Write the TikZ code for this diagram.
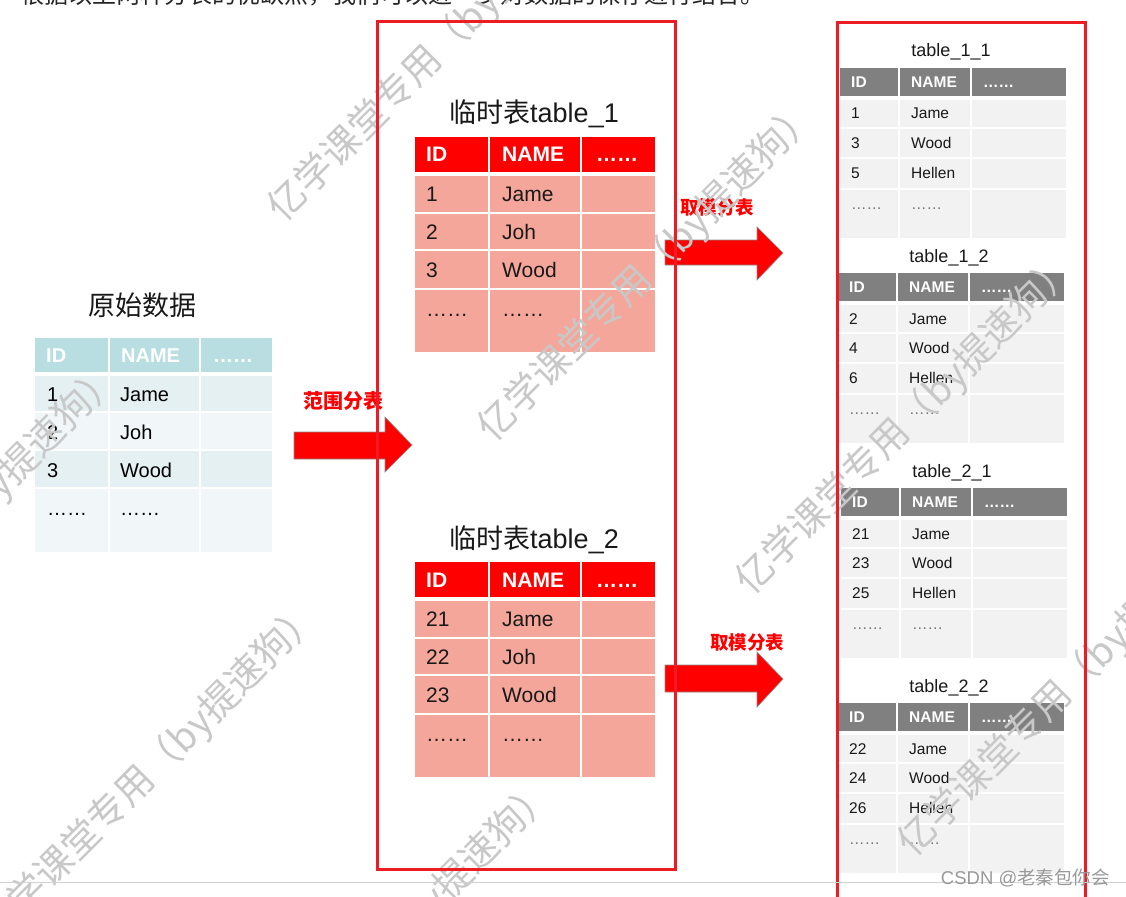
\documentclass[tikz,border=0pt]{standalone}
\usepackage{fontspec}
\setmainfont{Liberation Sans}
\newfontfamily\cjk{Noto Sans CJK SC}
\newcommand\fs[1]{\fontsize{#1}{#1}\selectfont}
\definecolor{lhdrc}{RGB}{185,222,226}
\definecolor{lrowa}{RGB}{228,240,242}
\definecolor{lrowb}{RGB}{241,247,249}
\definecolor{mhdrc}{RGB}{255,0,0}
\definecolor{mrowc}{RGB}{245,166,154}
\definecolor{rhdrc}{RGB}{128,128,128}
\definecolor{rrowc}{RGB}{242,242,242}
\definecolor{framec}{RGB}{237,28,36}
\definecolor{wmc}{RGB}{200,200,200}
\tikzset{
  base/.style={inner sep=0pt,anchor=base west},
  lhead/.style={base,text=white,font=\fs{20}\bfseries},
  lbody/.style={base,text=black,font=\fs{20}},
  mhead/.style={base,text=white,font=\fs{21}\bfseries},
  mbody/.style={base,text=black!90,font=\fs{21}},
  rhead/.style={base,text=white,font=\fs{15.5}\bfseries},
  rbody/.style={base,text=black!90,font=\fs{15.5}},
  rdots/.style={base,text=black!55,font=\fs{15.5}},
  ttl/.style={inner sep=0pt,anchor=base,text=black!90},
  lbl/.style={inner sep=0pt,anchor=base,text=red,font=\cjk\bfseries\fs{#1}},
  blockarrow/.style={fill=red,draw=black!45,line width=0.6pt},
  frame/.style={draw=framec,line width=3pt},
  wm/.style={inner sep=0pt,anchor=west,rotate=45,text=wmc,font=\cjk\fs{38}},
}
\newcommand\mtable[6]{%
  \foreach \a/\b in {415/488,490/580,582/655}{%
    \fill[mhdrc] (\a,#2) rectangle (\b,{#2+35});
    \foreach \ya/\yb in {39/75,77/112,114/151,153/215}
      \fill[mrowc] (\a,{#2+\ya}) rectangle (\b,{#2+\yb});
  }
  \node[ttl,font=\fs{27}] (#1-title) at (534,{#2-14}) {{\cjk 临时表}table\_#3};
  \node[mhead] (#1-hid) at (426,{#2+25}) {ID};
  \node[mhead] (#1-hname) at (502,{#2+25}) {NAME};
  \node[mhead] (#1-hmore) at (596,{#2+25}) {……};
  \node[mbody] (#1-id1) at (426,{#2+64.5}) {#4};
  \node[mbody] (#1-n1) at (502,{#2+64.5}) {Jame};
  \node[mbody] (#1-id2) at (426,{#2+102.5}) {#5};
  \node[mbody] (#1-n2) at (502,{#2+102.5}) {Joh};
  \node[mbody] (#1-id3) at (426,{#2+140.5}) {#6};
  \node[mbody] (#1-n3) at (502,{#2+140.5}) {Wood};
  \node[mbody] (#1-d1) at (426,{#2+179}) {……};
  \node[mbody] (#1-d2) at (502,{#2+179}) {……};
}
\newcommand\rtable[7]{%
  \foreach \a/\b in {0/58,60/130,132/226}{%
    \fill[rhdrc] ({#2+\a},#3) rectangle ({#2+\b},{#3+28});
    \foreach \ya/\yb in {32/59,61/89,91/120,122/170}
      \fill[rrowc] ({#2+\a},{#3+\ya}) rectangle ({#2+\b},{#3+\yb});
  }
  \node[ttl,font=\fs{18}] (#1-title) at ({#2+111},{#3-11}) {#4};
  \node[rhead] (#1-hid) at ({#2+11},{#3+19.5}) {ID};
  \node[rhead] (#1-hname) at ({#2+71},{#3+19.5}) {NAME};
  \node[rhead] (#1-hmore) at ({#2+143},{#3+19.5}) {……};
  \node[rbody] (#1-id1) at ({#2+11},{#3+51}) {#5};
  \node[rbody] (#1-n1) at ({#2+71},{#3+51}) {Jame};
  \node[rbody] (#1-id2) at ({#2+11},{#3+80.5}) {#6};
  \node[rbody] (#1-n2) at ({#2+71},{#3+80.5}) {Wood};
  \node[rbody] (#1-id3) at ({#2+11},{#3+110.5}) {#7};
  \node[rbody] (#1-n3) at ({#2+71},{#3+110.5}) {Hellen};
  \node[rdots] (#1-d1) at ({#2+11},{#3+141}) {……};
  \node[rdots] (#1-d2) at ({#2+71},{#3+141}) {……};
}
\begin{document}
\begin{tikzpicture}[x=1pt,y=-1pt]
\useasboundingbox (0,0) rectangle (1126,896);
\fill[white] (0,0) rectangle (1126,896);

% cut-off top line
\node[base,text=black!85,font=\cjk\fs{24}] (toptext) at (20,4) {根据以上两种分表的优缺点，我们可以进一步对数据的保存进行结合。};

% left table
\node[ttl,font=\cjk\fs{27}] (ltitle) at (142,315) {原始数据};
\foreach \a/\b in {35/108,110/199,201/272}{
  \fill[lhdrc] (\a,338) rectangle (\b,372);
  \foreach \ya/\yb/\c in {376/411/lrowa,413/449/lrowb,451/487/lrowa,489/552/lrowb}
    \fill[\c] (\a,\ya) rectangle (\b,\yb);
}
\node[lhead] (l-hid) at (46,362) {ID};
\node[lhead] (l-hname) at (121,362) {NAME};
\node[lhead] (l-hmore) at (213,362) {……};
\node[lbody] (l-id1) at (47,401) {1};
\node[lbody] (l-n1) at (120,401) {Jame};
\node[lbody] (l-id2) at (47,439) {2};
\node[lbody] (l-n2) at (120,439) {Joh};
\node[lbody] (l-id3) at (47,477) {3};
\node[lbody] (l-n3) at (120,477) {Wood};
\node[lbody] (l-d1) at (47,515) {……};
\node[lbody] (l-d2) at (120,515) {……};

% middle tables
\mtable{m1}{137}{1}{1}{2}{3}
\mtable{m2}{562}{2}{21}{22}{23}

% right tables
\rtable{r11}{840}{68}{table\_1\_1}{1}{3}{5}
\rtable{r12}{838}{273}{table\_1\_2}{2}{4}{6}
\rtable{r21}{841}{488}{table\_2\_1}{21}{23}{25}
\rtable{r22}{838}{703}{table\_2\_2}{22}{24}{26}

% block arrows
\fill[blockarrow] (294,432) -- (385,432) -- (385,417) -- (412,445) -- (385,472) -- (385,459) -- (294,459) -- cycle;
\fill[blockarrow] (665,240) -- (757,240) -- (757,227) -- (783,253) -- (757,280) -- (757,265) -- (665,265) -- cycle;
\fill[blockarrow] (665,665) -- (757,665) -- (757,652) -- (783,679) -- (757,707) -- (757,692) -- (665,692) -- cycle;
\node[lbl=20] (lab0) at (343,408) {范围分表};
\node[lbl=18.5] (lab1) at (717,214) {取模分表};
\node[lbl=18.5] (lab2) at (747,649) {取模分表};

% watermarks
\node[wm] (wm1) at (275,215) {亿学课堂专用（by提速狗）};
\node[wm] (wm2) at (485,435) {亿学课堂专用（by提速狗）};
\node[wm] (wm3) at (-212,697) {亿学课堂专用（by提速狗）};
\node[wm] (wm4) at (743,588) {亿学课堂专用（by提速狗）};
\node[wm] (wm5) at (-12,935) {亿学课堂专用（by提速狗）};
\node[wm] (wm6) at (222,1113) {亿学课堂专用（by提速狗）};
\node[wm] (wm7) at (905,850) {亿学课堂专用（by提速狗）};

% frames
\draw[frame] (377,22) rectangle (675,869);
\draw[frame] (837,900) -- (837,23) -- (1085,23) -- (1085,900);

% bottom rule and credit
\draw[black!18,line width=0.8pt] (0,882) -- (1126,882);
\node[inner sep=0pt,anchor=east,text=black!40,font=\fs{18.5}] (credit) at (1110,878) {CSDN @{\cjk 老秦包你会}};
\end{tikzpicture}
\end{document}
